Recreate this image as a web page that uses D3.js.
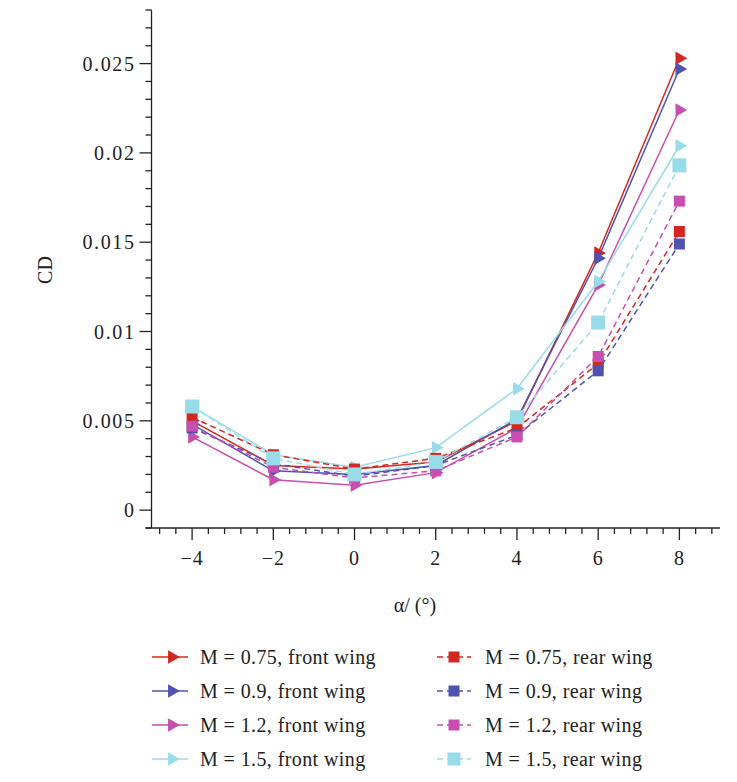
<!DOCTYPE html>
<html>
<head>
<meta charset="utf-8">
<script src="https://d3js.org/d3.v7.min.js"></script>
<style>
  body { margin: 0; background: #fff; }
  text { font-family: 'Liberation Serif', 'DejaVu Serif', serif; fill: #222; }
</style>
</head>
<body>
<script>
var alpha = [-4, -2, 0, 2, 4, 6, 8];

var frontM075 = [0.0050, 0.0025, 0.0023, 0.0027, 0.0050, 0.0144, 0.0253];
var frontM09 = [0.0048, 0.0022, 0.0020, 0.0025, 0.0051, 0.0141, 0.0247];
var frontM12 = [0.0041, 0.0017, 0.0014, 0.0021, 0.0046, 0.0126, 0.0224];
var frontM15 = [0.0058, 0.0031, 0.0024, 0.0035, 0.0068, 0.0128, 0.0204];

var rearM075 = [0.0052, 0.0031, 0.0023, 0.0029, 0.0046, 0.0082, 0.0156];
var rearM09 = [0.0046, 0.0026, 0.0019, 0.0025, 0.0042, 0.0078, 0.0149];
var rearM12 = [0.0047, 0.0024, 0.0018, 0.0022, 0.0041, 0.0086, 0.0173];
var rearM15 = [0.0058, 0.0029, 0.0020, 0.0027, 0.0052, 0.0105, 0.0193];

var machLabels = ['0.75', '0.9', '1.2', '1.5'];
var xTicks = [-4, -2, 0, 2, 4, 6, 8];
var yTicks = [0, 0.005, 0.01, 0.015, 0.02, 0.025];

var colors = ['#d2281f', '#4f52b1', '#c64fb0', '#98dcea'];

var w = 737, h = 782;

var svg = d3.select('body').append('svg')
  .attr('width', w)
  .attr('height', h);

var x = d3.scaleLinear().domain([-5, 9]).range([151.5, 720]);
var y = d3.scaleLinear().domain([-0.001, 0.028]).range([528, 10]);

var front = [frontM075, frontM09, frontM12, frontM15].map(function(d, i) {
  return { values: d, color: colors[i], label: 'M = ' + machLabels[i] + ', front wing', rear: false };
});
var rear = [rearM075, rearM09, rearM12, rearM15].map(function(d, i) {
  return { values: d, color: colors[i], label: 'M = ' + machLabels[i] + ', rear wing', rear: true, big: i === 3 };
});

// axes
var minorX = d3.range(-4.8, 9, 0.4).filter(function(v) {
  return Math.abs(v / 2 - Math.round(v / 2)) > 0.01;
});
var minorY = d3.range(-0.001, 0.0285, 0.001).filter(function(v) {
  return Math.abs(v / 0.005 - Math.round(v / 0.005)) > 0.01;
});

var axes = svg.append('g').attr('stroke', '#222').attr('stroke-width', 1.3);

axes.append('line')
  .attr('x1', x(-5)).attr('x2', x(-5))
  .attr('y1', y(0.028)).attr('y2', y(-0.001));
axes.append('line')
  .attr('x1', x(-5) - 6).attr('x2', x(9))
  .attr('y1', y(-0.001)).attr('y2', y(-0.001));

axes.selectAll('.ymajor')
  .data(yTicks)
  .enter()
  .append('line')
    .attr('x1', x(-5) - 12).attr('x2', x(-5))
    .attr('y1', function(d) { return y(d); })
    .attr('y2', function(d) { return y(d); });

axes.selectAll('.yminor')
  .data(minorY)
  .enter()
  .append('line')
    .attr('x1', x(-5) - 6).attr('x2', x(-5))
    .attr('y1', function(d) { return y(d); })
    .attr('y2', function(d) { return y(d); });

axes.selectAll('.xmajor')
  .data(xTicks)
  .enter()
  .append('line')
    .attr('x1', function(d) { return x(d); })
    .attr('x2', function(d) { return x(d); })
    .attr('y1', y(-0.001)).attr('y2', y(-0.001) + 12);

axes.selectAll('.xminor')
  .data(minorX)
  .enter()
  .append('line')
    .attr('x1', function(d) { return x(d); })
    .attr('x2', function(d) { return x(d); })
    .attr('y1', y(-0.001)).attr('y2', y(-0.001) + 6);

svg.append('g').selectAll('text')
  .data(yTicks)
  .enter()
  .append('text')
    .attr('x', x(-5) - 16)
    .attr('y', function(d) { return y(d); })
    .attr('dy', '0.35em')
    .attr('text-anchor', 'end')
    .style('font-size', '20px')
    .style('letter-spacing', '1.6px')
    .text(function(d) { return d === 0 ? '0' : String(d); });

svg.append('g').selectAll('text')
  .data(xTicks)
  .enter()
  .append('text')
    .attr('x', function(d) { return x(d); })
    .attr('y', 565)
    .attr('text-anchor', 'middle')
    .style('font-size', '20px')
    .style('letter-spacing', '1px')
    .text(function(d) { return d < 0 ? '\u2212' + Math.abs(d) : String(d); });

svg.append('text')
  .attr('x', 415)
  .attr('y', 612)
  .attr('text-anchor', 'middle')
  .style('font-size', '20px')
  .text('\u03b1/ (\u00b0)');

svg.append('text')
  .attr('transform', 'translate(52,270) rotate(-90)')
  .attr('text-anchor', 'middle')
  .style('font-size', '20px')
  .text('CD');

// series
var line = d3.line()
  .x(function(d, i) { return x(alpha[i]); })
  .y(function(d) { return y(d); });

var tri = d3.symbol().type(d3.symbolTriangle).size(80);

function drawSeries(s) {
  var g = svg.append('g');
  g.append('path')
    .attr('d', line(s.values))
    .attr('fill', 'none')
    .attr('stroke', s.color)
    .attr('stroke-width', 1.5)
    .attr('stroke-dasharray', s.rear ? '6,4' : null);
  var size = s.big ? 14 : 11;
  if (s.rear) {
    g.selectAll('rect')
      .data(s.values)
      .enter()
      .append('rect')
        .attr('x', function(d, i) { return x(alpha[i]) - size / 2; })
        .attr('y', function(d) { return y(d) - size / 2; })
        .attr('width', size)
        .attr('height', size)
        .attr('fill', s.color);
  } else {
    g.selectAll('path.m')
      .data(s.values)
      .enter()
      .append('path')
        .attr('class', 'm')
        .attr('d', tri)
        .attr('transform', function(d, i) {
          return 'translate(' + x(alpha[i]) + ',' + y(d) + ') rotate(90)';
        })
        .attr('fill', s.color);
  }
}

front.forEach(drawSeries);
rear.forEach(drawSeries);

// legend
var rowY = [657, 691, 725, 759];

front.forEach(function(s, i) {
  var g = svg.append('g').attr('transform', 'translate(152,' + rowY[i] + ')');
  g.append('line')
    .attr('x1', 0).attr('x2', 36)
    .attr('stroke', s.color).attr('stroke-width', 1.5);
  g.append('path')
    .attr('d', tri)
    .attr('transform', 'translate(20,0) rotate(90)')
    .attr('fill', s.color);
  g.append('text')
    .attr('x', 48)
    .attr('dy', '0.35em')
    .style('font-size', '20px')
    .style('letter-spacing', '0.4px')
    .text(s.label);
});

rear.forEach(function(s, i) {
  var g = svg.append('g').attr('transform', 'translate(437,' + rowY[i] + ')');
  var size = s.big ? 13 : 11;
  g.append('line')
    .attr('x1', 0).attr('x2', 34)
    .attr('stroke', s.color).attr('stroke-width', 1.5)
    .attr('stroke-dasharray', '6,4');
  g.append('rect')
    .attr('x', 17 - size / 2).attr('y', -size / 2)
    .attr('width', size).attr('height', size)
    .attr('fill', s.color);
  g.append('text')
    .attr('x', 48)
    .attr('dy', '0.35em')
    .style('font-size', '20px')
    .style('letter-spacing', '0.4px')
    .text(s.label);
});
</script>
</body>
</html>
